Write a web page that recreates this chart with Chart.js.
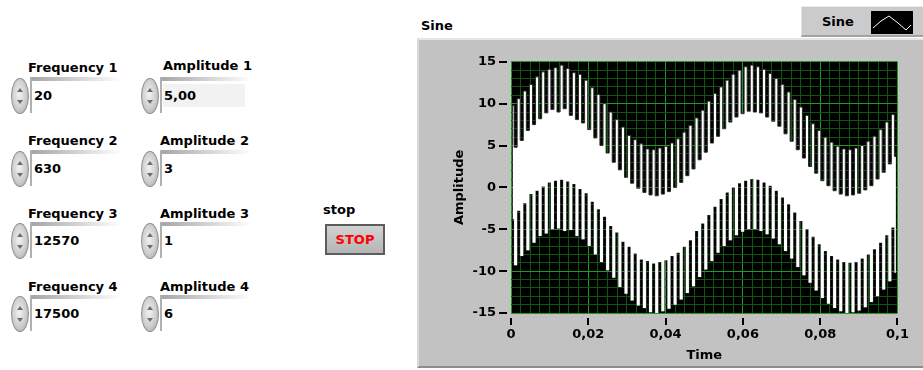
<!DOCTYPE html>
<html>
<head>
<meta charset="utf-8">
<script src="https://cdn.jsdelivr.net/npm/chart.js@4"></script>
<style>
  body { margin: 0; width: 923px; height: 370px; background: #fff; position: relative; overflow: hidden;
         font: bold 13px "DejaVu Sans", sans-serif; color: #000; }
  .lbl { position: absolute; white-space: nowrap; line-height: 15px; }
  .spin { position: absolute; width: 18px; height: 36px; box-sizing: border-box; border-radius: 50%;
          border: 1px solid #8e8e8e;
          background: radial-gradient(ellipse at 45% 45%, #f2f2f2 0%, #cdcdcd 55%, #9c9c9c 100%); }
  .spin::before, .spin::after { content: ''; position: absolute; left: 5px; width: 0; height: 0;
          border-left: 3px solid transparent; border-right: 3px solid transparent; }
  .spin::before { top: 9px; border-bottom: 4px solid #6d6d6d; }
  .spin::after { bottom: 9px; border-top: 4px solid #6d6d6d; }
  .bevT { position: absolute; height: 4px; background: linear-gradient(to right, #a4a4a4, #ededed 80%, #fff); }
  .bevL { position: absolute; width: 2px; background: #b0b0b0; }
  #panel { position: absolute; left: 417px; top: 38px; width: 506px; height: 330px; box-sizing: border-box;
           background: #c2c2c2; border-top: 2px solid #e6e6e6; border-left: 2px solid #dadada; border-bottom: 2px solid #8c8c8c; }
  #legend { position: absolute; left: 801px; top: 6px; width: 122px; height: 31px; box-sizing: border-box;
            background: #cbcbcb; border-top: 1px solid #ececec; border-left: 1px solid #e2e2e2; border-bottom: 2px solid #a2a2a2; }
  #stop { position: absolute; left: 325px; top: 224px; width: 60px; height: 31px; box-sizing: border-box;
          border: 2px solid #5c5c5c; background: linear-gradient(#d2d2d2, #b4b4b4);
          color: #ff0000; text-align: center; line-height: 27px; }
  canvas { position: absolute; left: 418px; top: 39px; }
</style>
</head>
<body>
<div id="controls"></div>
<div class="lbl" style="left:323px;top:202px">stop</div>
<div id="stop">STOP</div>

<div class="lbl" style="left:421px;top:18px">Sine</div>
<div id="legend">
  <div class="lbl" style="left:20px;top:7px">Sine</div>
  <svg style="position:absolute;left:69px;top:4px" width="42" height="23">
    <rect width="42" height="23" fill="#000"/>
    <polyline points="2,17 10,10 18,5 27,12 35,19 40,14" fill="none" stroke="#fff" stroke-width="1"/>
  </svg>
</div>
<div id="panel"></div>
<canvas id="graph" width="505" height="329"></canvas>

<script>
// front panel controls
const freqLabels = ['Frequency 1', 'Frequency 2', 'Frequency 3', 'Frequency 4'];
const freqValues = ['20', '630', '12570', '17500'];
const ampLabels = ['Amplitude 1', 'Amplitude 2', 'Amplitude 3', 'Amplitude 4'];
const ampValues = ['5,00', '3', '1', '6'];

// sampled signal: time (s) and the upper / lower edge of the white trace
const time = [
  0.00040, 0.00119, 0.00199, 0.00278, 0.00357, 0.00437, 0.00516, 0.00596, 0.00675, 0.00754,
  0.00834, 0.00913, 0.00992, 0.01072, 0.01151, 0.01230, 0.01310, 0.01389, 0.01468, 0.01548,
  0.01627, 0.01706, 0.01786, 0.01865, 0.01944, 0.02024, 0.02103, 0.02183, 0.02262, 0.02341,
  0.02421, 0.02500, 0.02579, 0.02659, 0.02738, 0.02817, 0.02897, 0.02976, 0.03055, 0.03135,
  0.03214, 0.03294, 0.03373, 0.03452, 0.03532, 0.03611, 0.03690, 0.03770, 0.03849, 0.03929,
  0.04008, 0.04087, 0.04167, 0.04246, 0.04325, 0.04405, 0.04484, 0.04563, 0.04643, 0.04722,
  0.04802, 0.04881, 0.04960, 0.05040, 0.05119, 0.05198, 0.05278, 0.05357, 0.05437, 0.05516,
  0.05595, 0.05675, 0.05754, 0.05833, 0.05913, 0.05992, 0.06071, 0.06151, 0.06230, 0.06310,
  0.06389, 0.06468, 0.06548, 0.06627, 0.06706, 0.06786, 0.06865, 0.06944, 0.07024, 0.07103,
  0.07183, 0.07262, 0.07341, 0.07421, 0.07500, 0.07579, 0.07659, 0.07738, 0.07817, 0.07897,
  0.07976, 0.08056, 0.08135, 0.08214, 0.08294, 0.08373, 0.08452, 0.08532, 0.08611, 0.08690,
  0.08770, 0.08849, 0.08929, 0.09008, 0.09087, 0.09167, 0.09246, 0.09325, 0.09405, 0.09484,
  0.09563, 0.09643, 0.09722, 0.09802, 0.09881, 0.09960
];
const upperEdge = [
  9.8, 4.8, 10.6, 5.6, 11.5, 6.8, 12.3, 7.5, 13.2, 8.2, 13.8, 8.9, 14.1, 9.3, 14.3, 9.0,
  14.6, 9.4, 14.2, 8.6, 13.7, 8.1, 13.5, 7.7, 12.8, 6.9, 11.9, 5.9, 11.1, 5.0, 10.0, 4.1,
  9.0, 3.0, 8.1, 2.1, 7.2, 1.2, 6.2, 0.5, 5.7, -0.1, 5.2, -0.6, 4.6, -0.9, 4.5, -1.0,
  4.7, -0.8, 4.9, -0.5, 5.3, 0.0, 5.8, 0.6, 6.6, 1.4, 7.4, 2.2, 8.3, 3.3, 9.2,
  4.2, 10.3, 5.3, 11.2, 6.1, 12.0, 7.0, 12.8, 7.8, 13.5, 8.4, 14.0, 8.8, 14.4, 9.1, 14.6,
  9.0, 14.4, 8.9, 14.1, 8.4, 13.6, 7.9, 13.0, 7.3, 12.3, 6.4, 11.4, 5.5, 10.5, 4.5, 9.6,
  3.5, 8.6, 2.5, 7.6, 1.7, 6.8, 0.8, 6.0, 0.2, 5.4, -0.4, 4.9, -0.8, 4.6, -1.0, 4.5,
  -0.9, 4.7, -0.7, 5.0, -0.3, 5.5, 0.2, 6.1, 1.0, 6.9, 1.8, 7.8, 2.8, 8.7, 3.7
];
const lowerEdge = [
  -3.8, -9.3, -2.8, -8.2, -1.9, -7.5, -0.8, -6.6, -0.4, -5.8, 0.1, -5.5, 0.6, -5.0, 0.8, -4.9,
  0.9, -5.2, 0.7, -5.1, 0.4, -5.8, -0.2, -6.2, -0.7, -7.0, -1.7, -8.0, -2.6, -8.9, -3.5, -9.9,
  -4.6, -10.8, -5.4, -11.9, -6.5, -12.7, -7.1, -13.5, -7.9, -14.1, -8.6, -14.4, -8.8, -14.9, -9.1, -15.0,
  -8.9, -14.8, -8.7, -14.5, -8.2, -14.0, -7.8, -13.4, -7.1, -12.6, -6.3, -11.8, -5.2, -10.7, -4.3,
  -9.8, -3.3, -8.8, -2.3, -7.8, -1.4, -7.0, -0.6, -6.3, 0.0, -5.7, 0.5, -5.3, 0.8, -5.0, 1.0,
  -5.0, 0.9, -5.2, 0.6, -5.6, 0.2, -6.1, -0.4, -6.8, -1.2, -7.6, -2.0, -8.5, -3.0, -9.5, -4.0,
  -10.5, -5.0, -11.4, -5.9, -12.3, -6.8, -13.2, -7.6, -13.9, -8.2, -14.4, -8.6, -14.8, -8.9, -15.0, -9.0,
  -14.9, -8.9, -14.7, -8.5, -14.3, -8.0, -13.7, -7.4, -13.0, -6.6, -12.2, -5.7, -11.2, -4.8, -10.2
];

// build the numeric controls
const controls = document.getElementById('controls');
function addControl(label, value, x, labelX, row, boxFill) {
  const ly = 60 + row * 73, vy = 96 + row * 72.7;
  let html = `<div class="lbl" style="left:${labelX}px;top:${ly - (row === 0 && x > 100 ? 2 : 0)}px">${label}</div>`;
  if (boxFill) html += `<div style="position:absolute;left:${x + 22}px;top:${vy - 12}px;width:82px;height:23px;background:#f2f2f2"></div>`;
  html += `<div class="spin" style="left:${x}px;top:${vy - 18}px"></div>`;
  html += `<div class="bevT" style="left:${x + 19}px;top:${vy - 19}px;width:92px"></div>`;
  html += `<div class="bevL" style="left:${x + 19}px;top:${vy - 19}px;height:36px"></div>`;
  html += `<div class="lbl" style="left:${x + 23}px;top:${vy - 8}px">${value}</div>`;
  controls.insertAdjacentHTML('beforeend', html);
}
freqLabels.forEach((l, i) => addControl(l, freqValues[i], 11, 28, i, false));
ampLabels.forEach((l, i) => addControl(l, ampValues[i], 141, i === 0 ? 163 : 160, i, i === 0));

// graph
const fontBold = { family: '"DejaVu Sans", sans-serif', size: 13, weight: 'bold' };
const majorGrid = '#229a22';
const minorGrid = '#0d560d';

const plotBackground = {
  id: 'plotBackground',
  beforeDraw(chart) {
    const { ctx, chartArea: a } = chart;
    ctx.save();
    ctx.fillStyle = '#000';
    ctx.fillRect(a.left, a.top, a.right - a.left, a.bottom - a.top);
    ctx.restore();
  }
};

// LabVIEW style tick marks, set off from the plot
const tickMarks = {
  id: 'tickMarks',
  afterDraw(chart) {
    const { ctx, chartArea: a, scales: { x, y } } = chart;
    ctx.save();
    ctx.fillStyle = '#000';
    x.ticks.forEach((t, i) => {
      if (i % 8) return;
      const px = Math.round(x.getPixelForValue(t.value));
      ctx.fillRect(px - 1, a.bottom + 5, 2, 7);
    });
    y.ticks.forEach(t => {
      if (Math.round(t.value) % 5) return;
      const py = Math.round(y.getPixelForValue(t.value));
      ctx.fillRect(a.left - 12, py - 1, 8, 2);
    });
    ctx.restore();
  }
};

const graph = document.getElementById('graph');
new Chart(graph, {
  type: 'line',
  data: {
    datasets: [{
      data: time.map((t, i) => ({ x: t, y: upperEdge[i] })),
      borderColor: '#2c2c2c',
      borderWidth: 1,
      backgroundColor: '#fff',
      fill: '+1',
      stepped: 'middle',
      pointRadius: 0
    }, {
      data: time.map((t, i) => ({ x: t, y: lowerEdge[i] })),
      borderColor: '#2c2c2c',
      borderWidth: 1,
      fill: false,
      stepped: 'middle',
      pointRadius: 0
    }]
  },
  options: {
    responsive: false,
    animation: false,
    devicePixelRatio: 1,
    layout: { padding: { top: 17, right: 23, left: 0, bottom: 0 } },
    plugins: { legend: { display: false }, tooltip: { enabled: false } },
    scales: {
      x: {
        type: 'linear', min: 0, max: 0.1,
        afterFit: s => { s.height = 55; },
        border: { display: false },
        grid: { color: c => c.index % 8 === 0 ? majorGrid : minorGrid, drawTicks: false },
        ticks: {
          stepSize: 0.0025, autoSkip: false, maxRotation: 0, padding: 14, color: '#000', font: fontBold,
          callback: (v, i) => i % 8 === 0 ? String(+v.toFixed(2)).replace('.', ',') : ''
        },
        title: { display: true, text: 'Time', color: '#000', font: fontBold, padding: { top: 0, bottom: 5 } }
      },
      y: {
        min: -15, max: 15,
        afterFit: s => { s.width = 93; },
        border: { display: false },
        grid: { color: c => Math.round(c.tick.value) % 5 === 0 ? majorGrid : minorGrid, drawTicks: false },
        ticks: {
          stepSize: 1, autoSkip: false, padding: 15, color: '#000', font: fontBold,
          callback: v => Math.round(v) % 5 === 0 ? String(v) : ''
        },
        title: { display: true, text: 'Amplitude', color: '#000', font: fontBold, padding: { top: 34, bottom: 0 } }
      }
    }
  },
  plugins: [plotBackground, tickMarks]
});
</script>
</body>
</html>
